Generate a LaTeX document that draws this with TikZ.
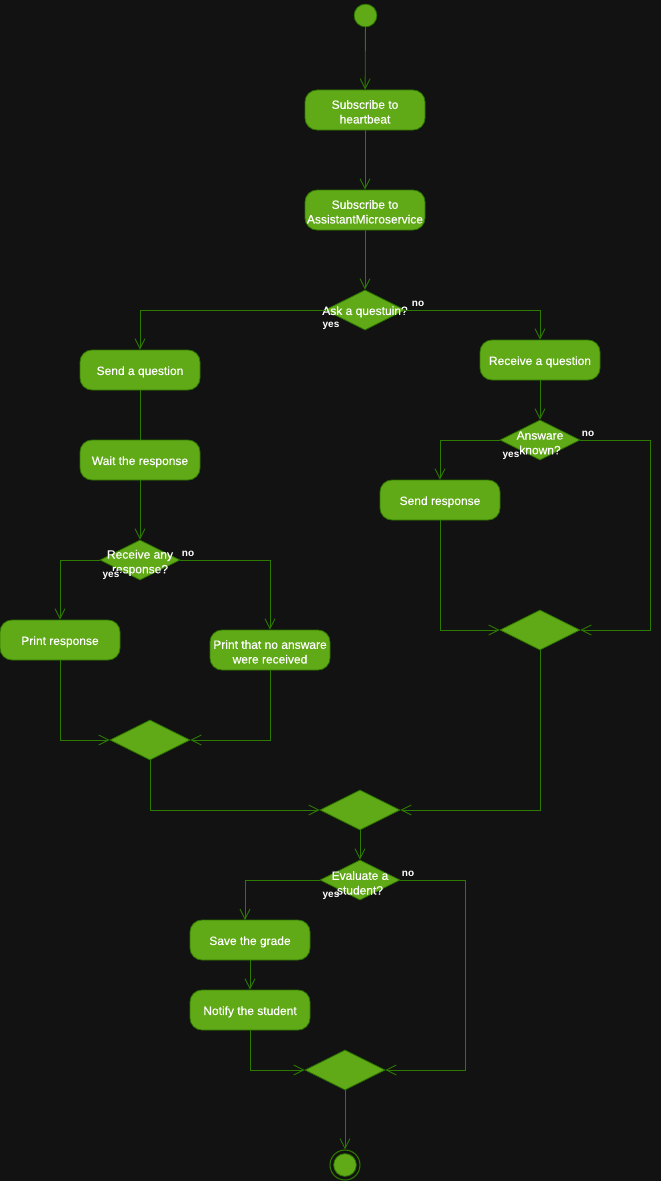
\documentclass[tikz,border=0pt]{standalone}
\usepackage{fontspec}
\setmainfont{Liberation Sans}
\newfontfamily\nodefont[FakeBold=0.3]{Liberation Sans}
\usetikzlibrary{shapes.geometric,arrows.meta}
\definecolor{bg}{HTML}{121212}
\definecolor{gfill}{HTML}{60A917}
\definecolor{gline}{HTML}{2D7A00}
\definecolor{gborder}{HTML}{2D7600}
\tikzset{
  act/.style={draw=gborder,fill=gfill,rounded corners=9pt,minimum width=90pt,minimum height=30pt,
    inner sep=0pt,line width=0.6pt},
  ntext/.style={align=center,text=white,font=\nodefont\fontsize{9pt}{11pt}\selectfont,inner sep=0pt,yshift=-1.4pt},
  dia/.style={draw=gborder,fill=gfill,diamond,minimum width=60pt,minimum height=30pt,inner sep=0pt,line width=0.6pt},
  elab/.style={text=white,font=\bfseries\fontsize{7.5pt}{9pt}\selectfont,inner sep=0.5pt},
  elabbg/.style={elab,fill=bg},
  conn/.style={draw=gline,line width=0.65pt},
  arr/.style={conn,-{Straight Barb[length=7.5pt,width=7.5pt]}},
}
\begin{document}
\begin{tikzpicture}[x=0.75pt,y=-0.75pt]
\fill[bg] (0,0) rectangle (661,1181);
\useasboundingbox (0,0) rectangle (661,1181);

\node[circle,fill=gfill,draw=gborder,minimum size=17pt,inner sep=0pt,line width=0.6pt] (start) at (365.5,15.5) {};
\node[act] (sub1) at (365,110) {};
\node[act] (sub2) at (365,210) {};
\node[dia] (ask) at (365,310) {};
\node[act] (sendq) at (140,370) {};
\node[act] (recq) at (540,360) {};
\node[act] (wait) at (140,460) {};
\node[dia] (known) at (540,440) {};
\node[act] (sendr) at (440,500) {};
\node[dia] (m2) at (540,630) {};
\node[dia] (any) at (140,560) {};
\node[act] (printr) at (60,640) {};
\node[act] (printn) at (270,650) {};
\node[dia] (m1) at (150,740) {};
\node[dia] (m3) at (360,810) {};
\node[dia] (eval) at (360,880) {};
\node[act] (save) at (250,940) {};
\node[act] (notify) at (250,1010) {};
\node[dia] (m4) at (345,1070) {};
\node[circle,draw=gborder,line width=0.8pt,minimum size=22.5pt,inner sep=0pt] (endo) at (345,1165) {};
\node[circle,fill=gfill,draw=gborder,minimum size=17pt,inner sep=0pt,line width=0.6pt] (endi) at (345,1165) {};

% texts
\node[ntext] (sub1t) at (sub1) {Subscribe to\\heartbeat};
\node[ntext] (sub2t) at (sub2) {Subscribe to\\AssistantMicroservice};
\node[ntext] (askt) at (ask) {Ask a questuin?};
\node[ntext] (sendqt) at (sendq) {Send a question};
\node[ntext] (recqt) at (recq) {Receive a question};
\node[ntext] (waitt) at (wait) {Wait the response};
\node[ntext] (knownt) at (540,441) {Answare\\known?};
\node[ntext] (sendrt) at (sendr) {Send response};
\node[ntext] (anyt) at (140,561) {Receive any\\response?};
\node[ntext] (printrt) at (printr) {Print response};
\node[ntext] (printnt) at (printn) {Print that no answare\\were received};
\node[ntext] (evalt) at (360,881) {Evaluate a\\student?};
\node[ntext] (savet) at (save) {Save the grade};
\node[ntext] (notifyt) at (notify) {Notify the student};

% edge labels
\node[elab] (askno) at (418,303.5) {no};
\node[elab] (askyes) at (331,325.5) {yes};
\node[elab] (knownno) at (588,433.5) {no};
\node[elab] (knownyes) at (511,455.5) {yes};
\node[elabbg] (anyyes) at (111,575.5) {yes};
\node[elab] (anyno) at (188,553.5) {no};
\node[elab] (evalno) at (408,873.5) {no};
\node[elab] (evalyes) at (331,895.5) {yes};

% connectors
\draw[arr] (start) -- (sub1);
\draw[arr] (sub1) -- (sub2);
\draw[arr] (sub2) -- (ask);
\draw[arr] (ask.west) -| (sendq.north);
\draw[arr] (ask.east) -| (recq.north);
\draw[conn] (sendq) -- (wait);
\draw[arr] (wait) -- (any);
\draw[arr] (recq) -- (known);
\draw[arr] (known.west) -| (sendr.north);
\coordinate (kr) at (650,440);
\draw[arr] (known.east) -- (kr) |- (m2.east);
\draw[arr] (sendr.south) |- (m2.west);
\draw[arr] (any.west) -| (printr.north);
\draw[arr] (any.east) -| (printn.north);
\draw[arr] (printr.south) |- (m1.west);
\draw[arr] (printn.south) |- (m1.east);
\draw[arr] (m1.south) |- (m3.west);
\draw[arr] (m2.south) |- (m3.east);
\draw[arr] (m3) -- (eval);
\coordinate (ey) at (245,880);
\coordinate (eyb) at (245,920);
\draw[arr] (eval.west) -- (ey) -- (eyb);
\draw[arr] (save) -- (notify);
\draw[arr] (notify.south) |- (m4.west);
\coordinate (en) at (465,880);
\draw[arr] (eval.east) -- (en) |- (m4.east);
\draw[arr] (m4.south) -- (endo.north);
\end{tikzpicture}
\end{document}
